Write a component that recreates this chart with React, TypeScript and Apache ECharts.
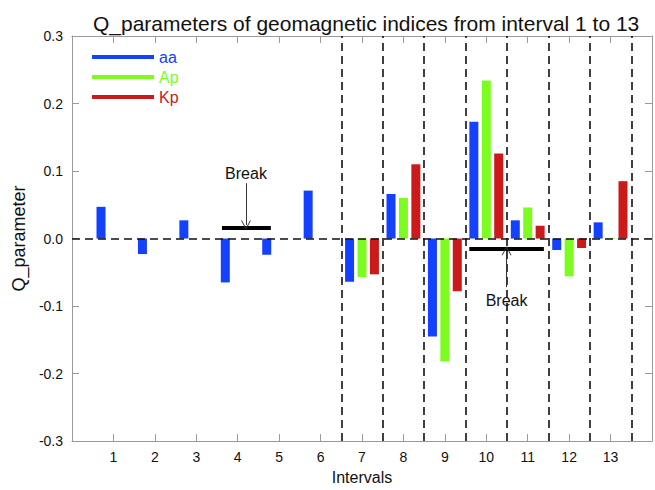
import React, { useEffect, useRef } from "react";
import * as echarts from "echarts";

const intervals = [1, 2, 3, 4, 5, 6, 7, 8, 9, 10, 11, 12, 13];
const aaValues = [0.047, -0.023, 0.027, -0.065, -0.024, 0.071, -0.064, 0.066, -0.145, 0.173, 0.027, -0.017, 0.024];
const apValues = [null, null, null, null, null, null, -0.057, 0.06, -0.182, 0.234, 0.046, -0.056, 0.001];
const kpValues = [null, null, null, null, null, null, -0.053, 0.11, -0.078, 0.126, 0.019, -0.014, 0.085];
const yTicks = [-0.3, -0.2, -0.1, 0.0, 0.1, 0.2, 0.3];
const separators = [6.5, 7.5, 8.5, 9.5, 10.5, 11.5, 12.5, 13.5];
// "Break" annotations: bar from x0..x1 at y, arrow from arrowFrom to arrowTo at xArrow, label at labelY
const breaks = [
  { x0: 3.62, x1: 4.8, y: 0.016, xArrow: 4.2, arrowFrom: 0.082, arrowTo: 0.02, labelY: 0.0965 },
  { x0: 9.59, x1: 11.39, y: -0.0145, xArrow: 10.49, arrowFrom: -0.072, arrowTo: -0.018, labelY: -0.092 },
];

const FONT = "'Liberation Sans', Arial, Helvetica, sans-serif";
const BLUE = "#1440ff";
const GREEN = "#7dfc1f";
const RED = "#cc1a1a";
const AXIS = "#9a9a9a";
const CHEVRON = "path://M0,10 L5,0 L10,10 L9,10 L5,2 L1,10 Z";

function toData(vals: (number | null)[]) {
  return intervals.map((x, i) => [x, vals[i] === null ? "-" : vals[i]]);
}

export default function App() {
  const ref = useRef<HTMLDivElement>(null);
  useEffect(() => {
    document.body.style.margin = "0";
    if (!ref.current) return;
    const chart = echarts.init(ref.current, null, { renderer: "svg", width: 655, height: 490 });
    const dashed = { color: "#111", width: 1.6, type: [8, 5] as any };
    const option: any = {
      animation: false,
      textStyle: { fontFamily: FONT },
      title: {
        text: "Q_parameters of geomagnetic indices from interval 1 to 13",
        left: 88,
        top: 8,
        textStyle: { fontFamily: FONT, fontSize: 21, fontWeight: "normal", color: "#111" },
      },
      legend: {
        orient: "vertical",
        left: 92,
        top: 49,
        padding: 0,
        icon: "rect",
        itemWidth: 62,
        itemHeight: 4,
        itemGap: 4,
        textStyle: { fontFamily: FONT, fontSize: 16 },
        data: [
          { name: "aa", textStyle: { color: BLUE } },
          { name: "Ap", textStyle: { color: GREEN } },
          { name: "Kp", textStyle: { color: RED } },
        ],
      },
      grid: { left: 72, right: 3, top: 36, bottom: 41 },
      xAxis: [
        {
          type: "value",
          min: 0,
          max: 14,
          interval: 1,
          name: "Intervals",
          nameLocation: "middle",
          nameGap: 22,
          nameTextStyle: { fontFamily: FONT, fontSize: 16, color: "#111", verticalAlign: "top" },
          axisLine: { onZero: false, lineStyle: { color: AXIS } },
          axisTick: { inside: true, length: 7, lineStyle: { color: AXIS } },
          axisLabel: {
            margin: 9,
            fontFamily: FONT,
            fontSize: 14,
            color: "#111",
            formatter: (v: number) => (v >= 1 && v <= 13 ? String(v) : ""),
          },
          splitLine: { show: false },
        },
        {
          type: "value",
          position: "top",
          min: 0,
          max: 14,
          interval: 1,
          axisLine: { onZero: false, lineStyle: { color: AXIS } },
          axisTick: { inside: true, length: 7, lineStyle: { color: AXIS } },
          axisLabel: { show: false },
          splitLine: { show: false },
        },
      ],
      yAxis: [
        {
          type: "value",
          min: yTicks[0],
          max: yTicks[yTicks.length - 1],
          interval: 0.1,
          name: "Q_parameter",
          nameLocation: "middle",
          nameRotate: 90,
          nameGap: 44,
          nameTextStyle: { fontFamily: FONT, fontSize: 18, color: "#111" },
          axisLine: { onZero: false, lineStyle: { color: AXIS } },
          axisTick: { inside: true, length: 7, lineStyle: { color: AXIS } },
          axisLabel: {
            margin: 9,
            fontFamily: FONT,
            fontSize: 14,
            color: "#111",
            formatter: (v: number) => v.toFixed(1),
          },
          splitLine: { show: false },
        },
        {
          type: "value",
          position: "right",
          min: yTicks[0],
          max: yTicks[yTicks.length - 1],
          interval: 0.1,
          axisLine: { onZero: false, lineStyle: { color: AXIS } },
          axisTick: { inside: true, length: 7, lineStyle: { color: AXIS } },
          axisLabel: { show: false },
          splitLine: { show: false },
        },
      ],
      series: [
        {
          name: "aa",
          type: "bar",
          xAxisIndex: 0,
          yAxisIndex: 0,
          barWidth: 9,
          barGap: "38%",
          itemStyle: { color: BLUE },
          data: toData(aaValues),
          z: 3,
        },
        {
          name: "Ap",
          type: "bar",
          xAxisIndex: 0,
          yAxisIndex: 0,
          barWidth: 9,
          barGap: "38%",
          itemStyle: { color: GREEN },
          data: toData(apValues),
          z: 3,
        },
        {
          name: "Kp",
          type: "bar",
          xAxisIndex: 0,
          yAxisIndex: 0,
          barWidth: 9,
          barGap: "38%",
          itemStyle: { color: RED },
          data: toData(kpValues),
          z: 3,
        },
        {
          name: "annotations",
          type: "line",
          xAxisIndex: 0,
          yAxisIndex: 0,
          data: [],
          z: 4,
          markLine: {
            silent: true,
            label: { show: false },
            symbol: "none",
            data: [
              ...separators.map((x) => ({ xAxis: x, lineStyle: dashed })),
              { yAxis: 0, lineStyle: dashed },
              ...breaks.map((b) => [
                { coord: [b.x0, b.y], symbol: "none", lineStyle: { color: "#000", width: 4, type: "solid" } },
                { coord: [b.x1, b.y], symbol: "none" },
              ]),
              ...breaks.map((b) => [
                { coord: [b.xArrow, b.arrowFrom], symbol: "none", lineStyle: { color: "#333", width: 1, type: "solid" } },
                { coord: [b.xArrow, b.arrowTo], symbol: CHEVRON, symbolSize: [10, 9], itemStyle: { color: "#333" } },
              ]),
            ],
          },
          markPoint: {
            silent: true,
            symbol: "circle",
            symbolSize: 0,
            label: {
              show: true,
              position: "inside",
              formatter: "Break",
              fontFamily: FONT,
              fontSize: 16,
              color: "#111",
            },
            data: breaks.map((b) => ({ coord: [b.xArrow, b.labelY] })),
          },
        },
      ],
    };
    chart.setOption(option);
    return () => chart.dispose();
  }, []);
  return <div ref={ref} style={{ width: 655, height: 490 }} />;
}
